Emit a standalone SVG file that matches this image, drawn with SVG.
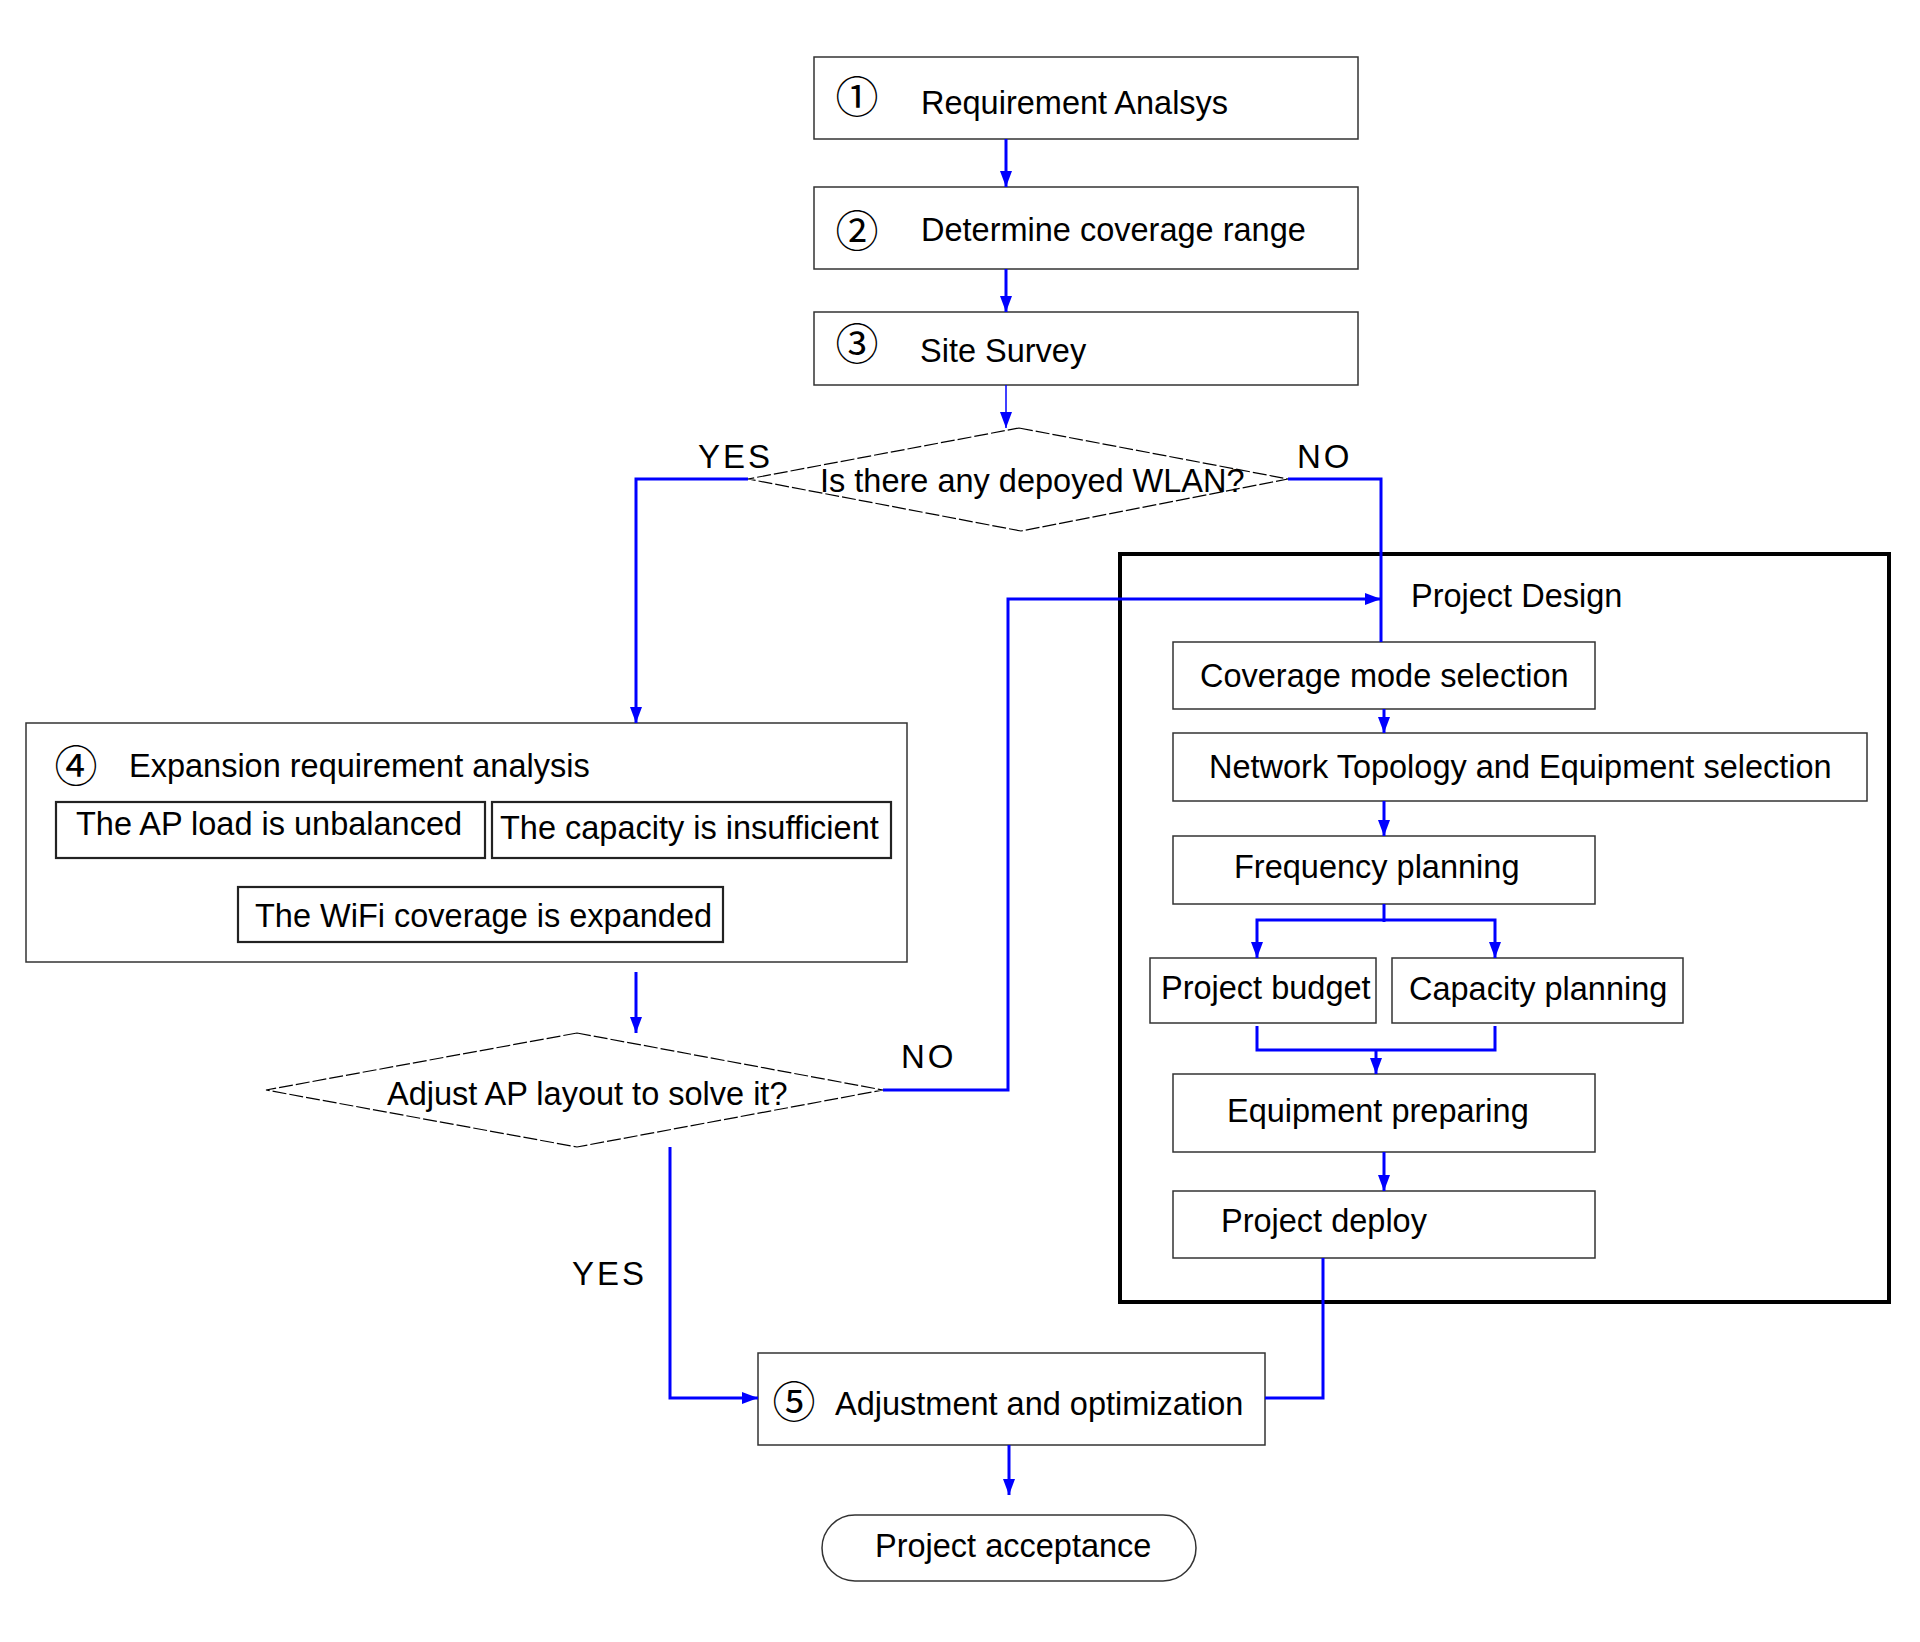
<svg xmlns="http://www.w3.org/2000/svg" width="1920" height="1642" viewBox="0 0 1920 1642">
<style>
text{font-family:"Liberation Sans",Arial,sans-serif;font-size:32.5px;fill:#000}
.num{font-family:"Noto Sans CJK SC","DejaVu Sans",sans-serif;font-size:43px;text-anchor:middle}
.lbl{letter-spacing:3px;font-size:33px}
.box{fill:#fff;stroke:#333;stroke-width:1.5}
.sub{fill:#fff;stroke:#222;stroke-width:2.2}
.dia{fill:#fff;stroke:#000;stroke-width:1.2;stroke-dasharray:14 3}
.c{fill:none;stroke:#0000ff;stroke-width:3}
.thin{stroke-width:1.5}
</style>
<defs>
<marker id="ah" viewBox="0 0 16 12" refX="16" refY="6" markerWidth="16" markerHeight="12" markerUnits="userSpaceOnUse" orient="auto"><path d="M0,0 L16,6 L0,12 z" fill="#0000ff"/></marker>
</defs>
<rect width="1920" height="1642" fill="#fff"/>
<g id="project-design">
<rect x="1120" y="554" width="769" height="748" fill="none" stroke="#000" stroke-width="4"/>
<text x="1411" y="607">Project Design</text>
</g>
<g id="n1"><rect class="box" x="814" y="57" width="544" height="82"/><text class="num" x="857" y="113">①</text><text x="921" y="114">Requirement Analsys</text></g>
<g id="n2"><rect class="box" x="814" y="187" width="544" height="82"/><text class="num" x="857" y="247">②</text><text x="921" y="241">Determine coverage range</text></g>
<g id="n3"><rect class="box" x="814" y="312" width="544" height="73"/><text class="num" x="857" y="360">③</text><text x="920" y="362">Site Survey</text></g>
<g id="d1"><polygon class="dia" points="1019,428 1288,479 1021,531 748,479"/><text x="820" y="492">Is there any depoyed WLAN?</text></g>
<g id="n4">
<rect class="box" x="26" y="723" width="881" height="239"/>
<text class="num" x="76" y="782">④</text><text x="129" y="777">Expansion requirement analysis</text>
<rect class="sub" x="56" y="802" width="429" height="56"/><text x="76" y="835">The AP load is unbalanced</text>
<rect class="sub" x="492" y="802" width="399" height="56"/><text x="500" y="839">The capacity is insufficient</text>
<rect class="sub" x="238" y="887" width="485" height="55"/><text x="255" y="927">The WiFi coverage is expanded</text>
</g>
<g id="d2"><polygon class="dia" points="577,1033 883,1090 577,1147 266,1090"/><text x="387" y="1105">Adjust AP layout to solve it?</text></g>
<g id="cov"><rect class="box" x="1173" y="642" width="422" height="67"/><text x="1200" y="687">Coverage mode selection</text></g>
<g id="net"><rect class="box" x="1173" y="733" width="694" height="68"/><text x="1209" y="778">Network Topology and Equipment selection</text></g>
<g id="freq"><rect class="box" x="1173" y="836" width="422" height="68"/><text x="1234" y="878">Frequency planning</text></g>
<g id="budget"><rect class="box" x="1150" y="958" width="226" height="65"/><text x="1161" y="999">Project budget</text></g>
<g id="capacity"><rect class="box" x="1392" y="958" width="291" height="65"/><text x="1409" y="1000">Capacity planning</text></g>
<g id="equip"><rect class="box" x="1173" y="1074" width="422" height="78"/><text x="1227" y="1122">Equipment preparing</text></g>
<g id="deploy"><rect class="box" x="1173" y="1191" width="422" height="67"/><text x="1221" y="1232">Project deploy</text></g>
<g id="n5"><rect class="box" x="758" y="1353" width="507" height="92"/><text class="num" x="794" y="1418">⑤</text><text x="835" y="1415">Adjustment and optimization</text></g>
<g id="accept"><rect class="box" x="822" y="1515" width="374" height="66" rx="33"/><text x="875" y="1557">Project acceptance</text></g>
<g id="labels">
<text class="lbl" x="698" y="468">YES</text><text class="lbl" x="1297" y="468">NO</text>
<text class="lbl" x="901" y="1068">NO</text><text class="lbl" x="572" y="1285">YES</text>
</g>
<g id="connectors">
<path class="c" d="M1006,139 V187" marker-end="url(#ah)"/>
<path class="c" d="M1006,269 V312" marker-end="url(#ah)"/>
<path class="c thin" d="M1006,385 V428" marker-end="url(#ah)"/>
<path class="c" d="M748,479 H636 V723" marker-end="url(#ah)"/>
<path class="c" d="M1288,479 H1381 V642"/>
<path class="c" d="M636,972 V1033" marker-end="url(#ah)"/>
<path class="c" d="M883,1090 H1008 V599 H1381" marker-end="url(#ah)"/>
<path class="c" d="M1384,709 V733" marker-end="url(#ah)"/>
<path class="c" d="M1384,801 V836" marker-end="url(#ah)"/>
<path class="c" d="M1384,904 V922"/>
<path class="c" d="M1384,920 H1257 V958" marker-end="url(#ah)"/>
<path class="c" d="M1384,920 H1495 V958" marker-end="url(#ah)"/>
<path class="c" d="M1257,1026 V1050 H1495 V1026"/>
<path class="c" d="M1376,1050 V1074" marker-end="url(#ah)"/>
<path class="c" d="M1384,1152 V1191" marker-end="url(#ah)"/>
<path class="c" d="M1323,1258 V1398 H1265"/>
<path class="c" d="M670,1147 V1398 H758" marker-end="url(#ah)"/>
<path class="c" d="M1009,1445 V1495" marker-end="url(#ah)"/>
</g>
</svg>
